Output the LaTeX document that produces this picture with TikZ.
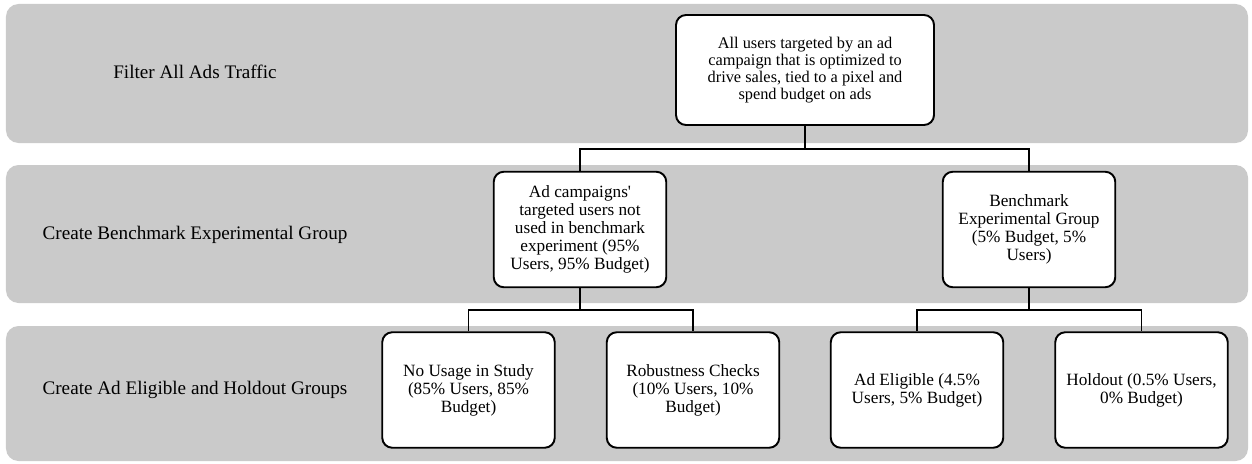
\documentclass[tikz,border=0pt]{standalone}
\usepackage{fontspec}
\setmainfont{Liberation Serif}
\usepackage{tikz}
\definecolor{bandgray}{RGB}{202,202,202}

\begin{document}
\begin{tikzpicture}[
  band/.style={fill=bandgray, rounded corners=0.25cm},
  stage/.style={font=\fontsize{10.9}{13}\selectfont},
  box/.style={draw, line width=1.1pt, fill=white, rounded corners=0.2cm,
    minimum width=3.45cm, minimum height=2.31cm, inner sep=0pt, align=center,
    font=\fontsize{9.8}{10.3}\selectfont},
  conn/.style={line width=1.1pt}
]
\useasboundingbox (0,0) rectangle (25.04,9.26);

% Stage bands
\fill[band] (0.12,6.40) rectangle (24.96,9.18);
\fill[band] (0.12,3.20) rectangle (24.96,5.96);
\fill[band] (0.12,0.04) rectangle (24.96,2.74);

% Stage labels
\node[stage] (s1) at (3.9,7.82) {Filter All Ads Traffic};
\node[stage] (s2) at (3.9,4.56) {Create Benchmark Experimental Group};
\node[stage] (s3) at (3.9,1.46) {Create Ad Eligible and Holdout Groups};

% Top level
\node[box, minimum width=5.16cm, minimum height=2.2cm, font=\fontsize{9.3}{9.6}\selectfont] (all) at (16.10,7.86)
  {All users targeted by an ad\\campaign that is optimized to\\drive sales, tied to a pixel and\\spend budget on ads};

% Benchmark split
\node[box] (rest) at (11.60,4.67) {Ad campaigns\textquotesingle\\targeted users not\\used in benchmark\\experiment (95\%\\Users, 95\% Budget)};
\node[box] (bench) at (20.58,4.67) {Benchmark\\Experimental Group\\(5\% Budget, 5\%\\Users)};

% Final groups
\node[box] (nouse) at (9.37,1.46) {No Usage in Study\\(85\% Users, 85\%\\Budget)};
\node[box] (robust) at (13.86,1.46) {Robustness Checks\\(10\% Users, 10\%\\Budget)};
\node[box] (elig) at (18.34,1.46) {Ad Eligible (4.5\%\\Users, 5\% Budget)};
\node[box] (hold) at (22.83,1.46) {Holdout (0.5\% Users,\\0\% Budget)};

% Tree connectors
\coordinate (bus1) at (0,6.28);
\coordinate (bus2) at (0,3.06);
\draw[conn] (all.south) -- (all.south |- bus1) -| (rest.north);
\draw[conn] (all.south |- bus1) -| (bench.north);
\draw[conn] (rest.south) -- (rest.south |- bus2) -| (nouse.north);
\draw[conn] (rest.south |- bus2) -| (robust.north);
\draw[conn] (bench.south) -- (bench.south |- bus2) -| (elig.north);
\draw[conn] (bench.south |- bus2) -| (hold.north);
\end{tikzpicture}
\end{document}
